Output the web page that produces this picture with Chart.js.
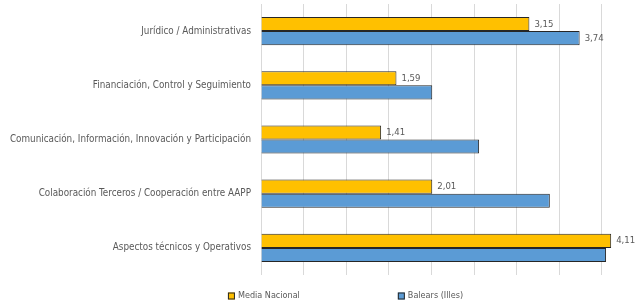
<!DOCTYPE html>
<html>
<head>
<meta charset="utf-8">
<script src="https://cdn.jsdelivr.net/npm/chart.js@4.4.0/dist/chart.umd.min.js"></script>
<style>
  html, body { margin: 0; padding: 0; background: #fff; overflow: hidden; }
  #wrap { width: 687px; height: 304px; }
</style>
</head>
<body>
<div id="wrap"><canvas id="chart"></canvas></div>
<script>
// categorias y valores
const categories = [
    'Jurídico / Administrativas',
    'Financiación, Control y Seguimiento',
    'Comunicación, Información, Innovación y Participación',
    'Colaboración Terceros / Cooperación entre AAPP',
    'Aspectos técnicos y Operativos'
];
const mediaNacional = [3.15, 1.59, 1.41, 2.01, 4.11];
const baleares = [3.74, 2.01, 2.56, 3.39, 4.05];
// etiquetas visibles (null = sin etiqueta)
const mediaLabels = ['3,15', '1,59', '1,41', '2,01', '4,11'];
const balearesLabels = ['3,74', null, null, null, null];

const FONT = "'Liberation Sans Narrow', 'DejaVu Sans Condensed', sans-serif";
const GREY = '#595959';

// Data labels
const valueLabels = {
    id: 'valueLabels',
    afterDatasetsDraw(chart) {
        const ctx = chart.ctx;
        const lists = [mediaLabels, balearesLabels];
        ctx.save();
        ctx.font = '9.5px ' + FONT;
        ctx.fillStyle = GREY;
        ctx.textAlign = 'left';
        ctx.textBaseline = 'middle';
        lists.forEach((list, di) => {
            chart.getDatasetMeta(di).data.forEach((bar, i) => {
                if (list[i]) ctx.fillText(list[i], bar.x + 5, bar.y);
            });
        });
        ctx.restore();
    }
};

// Leyenda abajo, con mucho espacio entre items
const bottomLegend = {
    id: 'bottomLegend',
    afterDraw(chart) {
        const ctx = chart.ctx;
        const ds = chart.data.datasets;
        const box = 7, gap = 3, between = 98;
        ctx.save();
        ctx.font = '9px ' + FONT;
        const widths = ds.map(d => box + gap + ctx.measureText(d.label).width);
        const total = widths.reduce((a, b) => a + b, 0) + between * (ds.length - 1);
        let x = chart.width / 2 - total / 2 + 2;
        const y = chart.height - 8;
        ds.forEach((d, i) => {
            ctx.fillStyle = d.backgroundColor;
            ctx.fillRect(x, y - box / 2, box, box);
            ctx.strokeStyle = d.borderColor;
            ctx.lineWidth = 1;
            ctx.strokeRect(x + 0.5, y - box / 2 + 0.5, box - 1, box - 1);
            ctx.fillStyle = GREY;
            ctx.textBaseline = 'middle';
            ctx.fillText(d.label, x + box + gap, y);
            x += widths[i] + between;
        });
        ctx.restore();
    }
};

const ctx = document.getElementById('chart').getContext('2d');
new Chart(ctx, {
    type: 'bar',
    data: {
        labels: categories,
        datasets: [{
            label: 'Media Nacional',
            data: mediaNacional,
            backgroundColor: '#FFC000',
            borderColor: '#262626',
            borderWidth: 1
        }, {
            label: 'Balears (Illes)',
            data: baleares,
            backgroundColor: '#5B9BD5',
            borderColor: '#262626',
            borderWidth: 1
        }]
    },
    options: {
        indexAxis: 'y',
        responsive: true,
        maintainAspectRatio: false,
        animation: false,
        datasets: { bar: { barPercentage: 1, categoryPercentage: 0.52 } },
        layout: { padding: { top: 4, left: 0, right: 0, bottom: 29 } },
        plugins: {
            legend: { display: false },
            tooltip: { enabled: false }
        },
        scales: {
            x: {
                min: 0,
                max: 5,
                ticks: { display: false, stepSize: 0.5 },
                grid: { color: '#d9d9d9', drawTicks: false },
                border: { display: false }
            },
            y: {
                afterFit(scale) {
                    scale.width = 261;
                    scale.paddingTop = 0;
                    scale.paddingBottom = 0;
                },
                ticks: {
                    color: GREY,
                    padding: 10,
                    font: { family: FONT, size: 9.8 }
                },
                grid: { display: false, drawTicks: false },
                border: { display: false }
            }
        }
    },
    plugins: [valueLabels, bottomLegend]
});
</script>
</body>
</html>
